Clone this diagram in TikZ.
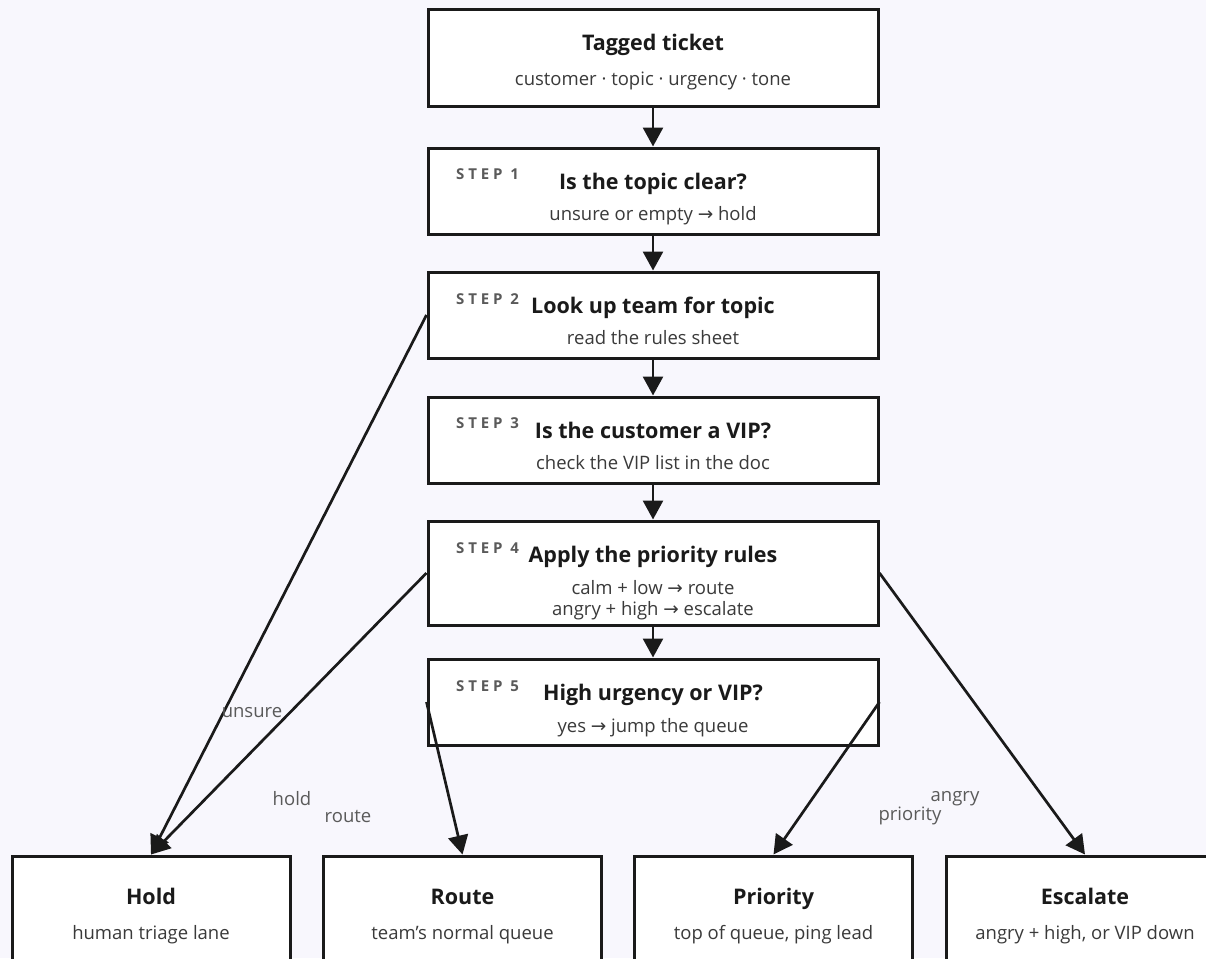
\documentclass[tikz,border=0pt]{standalone}
\usepackage{fontspec}
\setmainfont{Open Sans}
\newfontfamily\symfont{DejaVu Sans}
\newfontfamily\stepfont[LetterSpace=26]{Open Sans}
\usetikzlibrary{arrows.meta}

\definecolor{bg}{HTML}{F8F7FD}
\definecolor{ink}{HTML}{1A1A1A}
\definecolor{soft}{HTML}{3A3A3A}
\definecolor{faint}{HTML}{5A5A5A}
\newcommand{\toarr}{{\symfont →}}

\begin{document}
\begin{tikzpicture}[x=1pt, y=-1pt,
    box/.style={draw=ink, line width=3pt, fill=white, minimum width=450pt},
    outbox/.style={draw=ink, line width=3pt, fill=white, minimum width=278pt, minimum height=150pt},
    title/.style={text=ink, font=\fontsize{21.5}{25}\selectfont\bfseries, inner sep=0pt, text height=19pt, text depth=5pt},
    sub/.style={text=soft, font=\fontsize{18.5}{21}\selectfont, inner sep=0pt, align=center, text height=17pt, text depth=4pt},
    steplabel/.style={text=faint, font=\stepfont\fontsize{15}{17}\selectfont\bfseries, anchor=west, inner sep=0pt},
    edgelabel/.style={text=faint, font=\fontsize{18.5}{21}\selectfont, inner sep=0pt},
    arr/.style={draw=ink, line width=2.7pt, -{Triangle[length=19pt,width=20pt]}}]

    \useasboundingbox (0,0) rectangle (1206,958);
    \fill[bg] (0,0) rectangle (1206,958);
    \clip (0,0) rectangle (1206,958);

    % input
    \node[box, minimum height=96pt] (ticket) at (653,58) {};
    \node[title] (tickett) at (653,44) {Tagged ticket};
    \node[sub] (tickets) at (653,79) {customer · topic · urgency · tone};

    % steps
    \node[box, minimum height=86pt] (s1) at (653,191) {};
    \node[box, minimum height=86pt] (s2) at (653,315) {};
    \node[box, minimum height=86pt] (s3) at (653,440) {};
    \node[box, minimum height=104pt] (s4) at (653,573) {};
    \node[box, minimum height=86pt] (s5) at (653,702) {};

    \foreach \n/\y in {1/174, 2/299, 3/423, 4/548, 5/686} {
        \node[steplabel] (l\n) at (456,\y) {STEP \n};
    }

    \node[title] (s1t) at (653,182) {Is the topic clear?};
    \node[sub] (s1s) at (653,214) {unsure or empty \toarr{} hold};
    \node[title] (s2t) at (653,306) {Look up team for topic};
    \node[sub] (s2s) at (653,338) {read the rules sheet};
    \node[title] (s3t) at (653,431) {Is the customer a VIP?};
    \node[sub] (s3s) at (653,463) {check the VIP list in the doc};
    \node[title] (s4t) at (653,555) {Apply the priority rules};
    \node[sub, text height=, text depth=] (s4s) at (653,600) {calm + low \toarr{} route\\angry + high \toarr{} escalate};
    \node[title] (s5t) at (653,693) {High urgency or VIP?};
    \node[sub] (s5s) at (653,726) {yes \toarr{} jump the queue};

    % outcomes
    \node[outbox] (hold) at (151,931) {};
    \node[outbox] (route) at (462.5,931) {};
    \node[outbox] (prio) at (773.5,931) {};
    \node[outbox] (esc) at (1085,931) {};

    \node[title] (holdt) at (151,897) {Hold};
    \node[sub] (holds) at (151,933) {human triage lane};
    \node[title] (routet) at (462.5,897) {Route};
    \node[sub] (routes) at (462.5,933) {team’s normal queue};
    \node[title] (priot) at (773.5,897) {Priority};
    \node[sub] (prios) at (773.5,933) {top of queue, ping lead};
    \node[title] (esct) at (1085,897) {Escalate};
    \node[sub] (escs) at (1085,933) {angry + high, or VIP down};

    % arrows
    \foreach \a/\b in {ticket/s1, s1/s2, s2/s3, s3/s4, s4/s5} {
        \draw[arr] (\a) -- (\b);
    }
    \draw[arr] (s2.west) -- (hold.north);
    \draw[arr] (s4.west) -- (hold.north);
    \draw[arr] (s5.west) -- (route.north);
    \draw[arr] (s5.east) -- (prio.north);
    \draw[arr] (s4.east) -- (esc.north);

    \node[edgelabel] (eunsure) at (252,713) {unsure};
    \node[edgelabel] (ehold) at (292,799) {hold};
    \node[edgelabel] (eroute) at (348,816) {route};
    \node[edgelabel] (eangry) at (955,799) {angry};
    \node[edgelabel] (eprio) at (910,816) {priority};
\end{tikzpicture}
\end{document}
